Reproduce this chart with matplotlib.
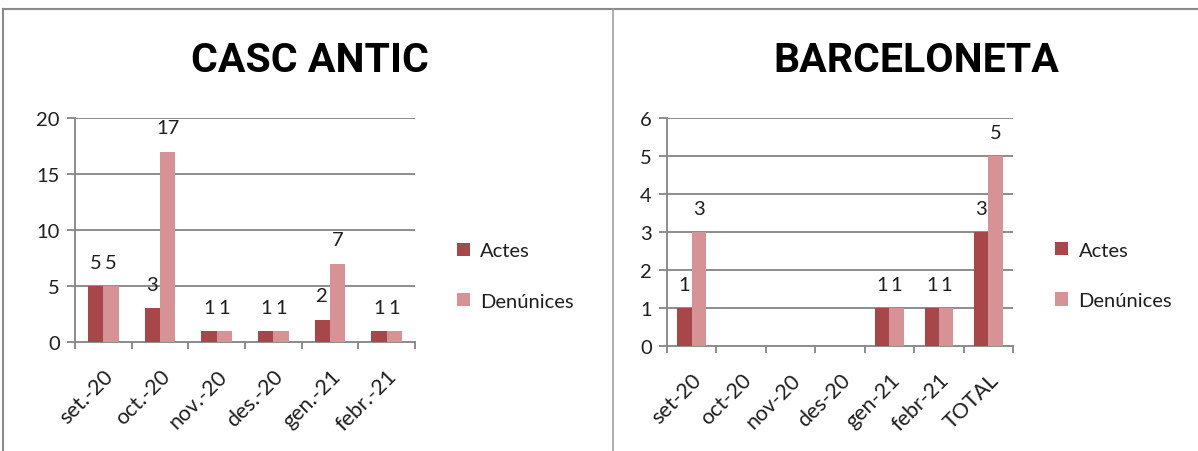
import numpy as np
import matplotlib
matplotlib.use("Agg")
from matplotlib import pyplot as plt
from matplotlib.lines import Line2D

# data
casc_cats = ['set.-20', 'oct.-20', 'nov.-20', 'des.-20', 'gen.-21', 'febr.-21']
casc_actes = [5, 3, 1, 1, 2, 1]
casc_denuncies = [5, 17, 1, 1, 7, 1]

barc_cats = ['set-20', 'oct-20', 'nov-20', 'des-20', 'gen-21', 'febr-21', 'TOTAL']
barc_actes = [1, None, None, None, 1, 1, 3]
barc_denuncies = [3, None, None, None, 1, 1, 5]

series_names = ['Actes', 'Denúnices']
colors = ['#A8474A', '#D69294']

plt.rcParams['font.family'] = ['Lato', 'DejaVu Sans']

W, H = 1198, 452
fig = plt.figure(figsize=(W / 100, H / 100), dpi=100)

grid_c = '#8C8C8C'
txt_c = '#1E1E1E'
fs = 14.5


def draw(ax, cats, a, d, ymax, step, bar_w, leg_y):
    x = np.arange(len(cats))
    av = [0 if v is None else v for v in a]
    dv = [0 if v is None else v for v in d]
    ax.set_axisbelow(True)
    ax.bar(x - bar_w / 2, av, bar_w, color=colors[0], label=series_names[0], zorder=3)
    ax.bar(x + bar_w / 2, dv, bar_w, color=colors[1], label=series_names[1], zorder=3)
    for xi, va_, vd in zip(x, a, d):
        if va_ is not None:
            ax.annotate(str(va_), (xi - bar_w / 2, va_), xytext=(0, 17), textcoords='offset points',
                        ha='center', va='center', fontsize=fs, color=txt_c)
        if vd is not None:
            ax.annotate(str(vd), (xi + bar_w / 2, vd), xytext=(0, 17), textcoords='offset points',
                        ha='center', va='center', fontsize=fs, color=txt_c)
    ax.set_xlim(-0.5, len(cats) - 0.5)
    ax.set_ylim(0, ymax)
    ax.set_yticks(np.arange(0, ymax + 0.1, step))
    ax.yaxis.grid(True, color=grid_c, linewidth=1.4)
    ax.set_xticks(x)
    ax.set_xticklabels(cats, rotation=45, ha='right', rotation_mode='anchor', fontsize=15.5, color=txt_c)
    ax.set_xticks(np.arange(-0.5, len(cats), 1), minor=True)
    ax.tick_params(axis='x', which='major', length=0, pad=17)
    ax.tick_params(axis='x', which='minor', length=5, width=1.4, color=grid_c, direction='out')
    ax.tick_params(axis='y', length=6, width=1.4, color=grid_c, labelsize=fs, labelcolor=txt_c, pad=5)
    for s in ['top', 'right']:
        ax.spines[s].set_visible(False)
    for s in ['left', 'bottom']:
        ax.spines[s].set_color(grid_c)
        ax.spines[s].set_linewidth(1.4)
    leg = ax.legend(loc='center left', bbox_to_anchor=(1.07, leg_y), frameon=False, fontsize=fs,
                    handlelength=0.65, handleheight=0.65, handletextpad=0.5, labelspacing=1.65)
    for t in leg.get_texts():
        t.set_color(txt_c)


ax1 = fig.add_axes([75 / W, 1 - 343 / H, 340 / W, 224 / H])
draw(ax1, casc_cats, casc_actes, casc_denuncies, 20, 5, 0.27, 0.295)
ax2 = fig.add_axes([667 / W, 1 - 347 / H, 346 / W, 228 / H])
draw(ax2, barc_cats, barc_actes, barc_denuncies, 6, 1, 0.29, 0.31)

title_kw = dict(ha='center', va='center', fontsize=29.5, fontweight='bold',
                family=['Roboto', 'DejaVu Sans'], fontstretch='condensed', color='black')
fig.text(310 / W, 1 - 61 / H, 'CASC ANTIC', **title_kw)
fig.text(916 / W, 1 - 61 / H, 'BARCELONETA', **title_kw)

# frame lines
border_c = '#8A8A8A'
fig.add_artist(Line2D([3 / W, 1], [1 - 10 / H, 1 - 10 / H], color=border_c, linewidth=1.5))
fig.add_artist(Line2D([3 / W, 3 / W], [0, 1 - 10 / H], color=border_c, linewidth=1.5))
fig.add_artist(Line2D([613 / W, 613 / W], [0, 1 - 10 / H], color='#A0A0A0', linewidth=1.2))

fig.savefig('out.png', dpi=100)
